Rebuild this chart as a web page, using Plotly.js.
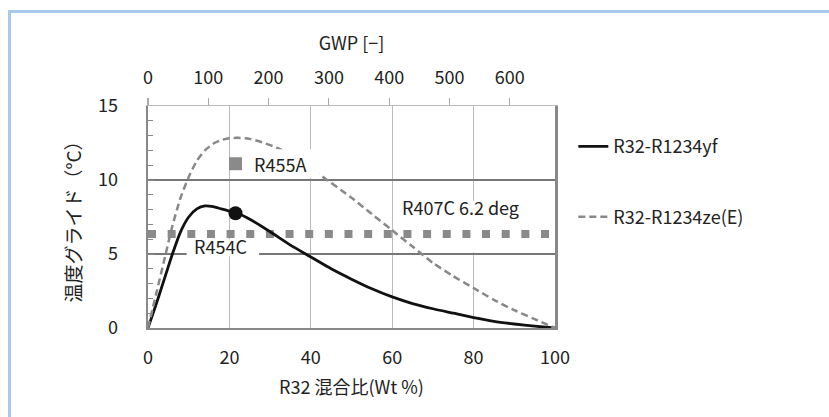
<!DOCTYPE html>
<html>
<head>
<meta charset="utf-8">
<script src="https://cdn.plot.ly/plotly-3.0.1.min.js"></script>
<style>
  html, body { margin: 0; padding: 0; background: #fff; }
  #frame { position: absolute; left: 8px; top: 10px; width: 900px; height: 500px;
           border-left: 3.5px solid #a8caec; border-top: 3.5px solid #a8caec; }
  #chart { position: absolute; left: 0; top: 0; width: 829px; height: 417px; }
</style>
</head>
<body>
<div id="frame"></div>
<div id="chart"></div>
<script>
// R32 mass fraction (wt%) and temperature glide (°C)
const xYf = [0, 2, 4, 6, 8, 10, 12, 14, 16, 18, 20, 22, 25, 30, 35, 40, 45, 50, 55, 60, 65, 70, 75, 80, 85, 90, 95, 100];
const yYf = [0, 1.6, 3.3, 5.0, 6.5, 7.5, 8.05, 8.25, 8.2, 8.05, 7.9, 7.75, 7.35, 6.5, 5.6, 4.8, 4.0, 3.3, 2.65, 2.1, 1.65, 1.3, 1.0, 0.7, 0.45, 0.27, 0.12, 0];

const xZe = [0, 2, 4, 6, 8, 10, 12, 14, 16, 18, 20, 22, 25, 28, 31.5, 36, 42, 50, 55, 60, 65, 70, 75, 80, 85, 90, 95, 100];
const yZe = [0, 2.3, 4.6, 6.9, 8.8, 10.2, 11.3, 12.0, 12.45, 12.7, 12.82, 12.85, 12.78, 12.55, 12.2, 11.6, 10.4, 8.8, 7.7, 6.6, 5.5, 4.4, 3.5, 2.7, 1.9, 1.2, 0.6, 0];

const r407cX = [0, 100];
const r407cY = [6.35, 6.35];

const r454cX = [21.5];
const r454cY = [7.75];

const r455aX = [21.5];
const r455aY = [11.1];

const seriesNames = ['R32-R1234yf', 'R32-R1234ze(E)'];
const gwpRange = [0, 675];

const FONT = '"Noto Sans CJK JP", "Noto Sans", sans-serif';

const traces = [
  { x: r407cX, y: r407cY, mode: 'lines', showlegend: false, hoverinfo: 'skip',
    line: { color: '#8a8a8a', width: 8, dash: '8px,11.65px' } },
  { x: xYf, y: yYf, mode: 'lines', name: seriesNames[0], legendgroup: 'a',
    line: { color: '#111', width: 2.8, shape: 'spline', smoothing: 0.6 } },
  { x: xZe, y: yZe, mode: 'lines', name: seriesNames[1], legendgroup: 'b',
    line: { color: '#888', width: 2.5, dash: '7px,4px', shape: 'spline', smoothing: 0.6 } },
  { x: r454cX, y: r454cY, mode: 'markers', showlegend: false,
    marker: { color: '#111', size: 14, symbol: 'circle' } },
  { x: r455aX, y: r455aY, mode: 'markers', showlegend: false,
    marker: { color: '#8a8a8a', size: 13, symbol: 'square' } },
  // carrier for the GWP (top) axis, draws nothing
  { x: gwpRange, y: [null, null], xaxis: 'x2', yaxis: 'y', mode: 'lines',
    showlegend: false, hoverinfo: 'skip' }
];

const layout = {
  width: 829, height: 417,
  margin: { l: 148, r: 274, t: 106, b: 89 },
  paper_bgcolor: 'rgba(0,0,0,0)', plot_bgcolor: 'rgba(0,0,0,0)',
  font: { family: FONT, size: 18, color: '#222' },
  showlegend: true,
  legend: { x: 1.045, xanchor: 'left', y: 0.90, yanchor: 'top',
            tracegroupgap: 44, font: { size: 18, family: FONT, color: '#222' },
            bgcolor: 'rgba(0,0,0,0)' },
  xaxis: {
    range: [0, 100], dtick: 20, tick0: 0,
    showgrid: true, gridcolor: '#bbb', gridwidth: 1,
    zeroline: false, showline: true, linecolor: '#888', linewidth: 2,
    ticks: '', ticklabelstandoff: 12,
    tickfont: { size: 18, family: FONT, color: '#222' },
    title: { text: 'R32 混合比(Wt %)', standoff: 14, font: { size: 18, family: FONT, color: '#222' } }
  },
  xaxis2: {
    overlaying: 'x', side: 'top', anchor: 'y',
    range: gwpRange, dtick: 100, tick0: 0,
    showgrid: false, zeroline: false, showline: true, linecolor: '#bbb', linewidth: 1.5,
    ticks: 'outside', ticklen: 7, tickcolor: '#aaa', tickwidth: 1.2,
    ticklabelstandoff: 6,
    tickfont: { size: 18, family: FONT, color: '#222' },
    title: { text: 'GWP [−]', standoff: 8, font: { size: 18, family: FONT, color: '#222' } }
  },
  yaxis: {
    range: [0, 15], dtick: 5, tick0: 0,
    showgrid: true, gridcolor: '#777', gridwidth: 1.2,
    zeroline: false, showline: true, linecolor: '#888', linewidth: 2.5, mirror: true,
    ticks: 'inside', ticklen: 6, tickcolor: '#888',
    minor: { dtick: 1, ticks: 'inside', ticklen: 5, tickcolor: '#888', showgrid: false },
    ticklabelstandoff: 24,
    tickfont: { size: 18, family: FONT, color: '#222' },
    title: { text: '温度グライド（°C）', standoff: 12, font: { size: 19, family: FONT, color: '#222' } }
  },
  shapes: [
    { type: 'rect', xref: 'x', yref: 'y', x0: 9.5, x1: 27.3, y0: 4.85, y1: 6.0,
      fillcolor: '#fff', line: { width: 0 }, layer: 'between' },
    { type: 'rect', xref: 'x', yref: 'y', x0: 61, x1: 98, y0: 5.1, y1: 8.6,
      fillcolor: '#fff', line: { width: 0 }, layer: 'between' },
    { type: 'rect', xref: 'x', yref: 'y', x0: 24.0, x1: 42.2, y0: 10.13, y1: 12.08,
      fillcolor: '#fff', line: { width: 0 }, layer: 'above' }
  ],
  annotations: [
    { x: 25.5, y: 11.06, xref: 'x', yref: 'y', text: 'R455A', showarrow: false,
      xanchor: 'left', yanchor: 'middle', font: { size: 18, family: FONT, color: '#222' } },
    { x: 17.9, y: 5.57, xref: 'x', yref: 'y', text: 'R454C', showarrow: false,
      xanchor: 'center', yanchor: 'middle', font: { size: 18, family: FONT, color: '#222' } },
    { x: 61.8, y: 8.2, xref: 'x', yref: 'y', text: 'R407C 6.2 deg', showarrow: false,
      xanchor: 'left', yanchor: 'middle', font: { size: 18, family: FONT, color: '#222' } }
  ]
};

Plotly.newPlot('chart', traces, layout, { displayModeBar: false, staticPlot: true });
</script>
</body>
</html>
